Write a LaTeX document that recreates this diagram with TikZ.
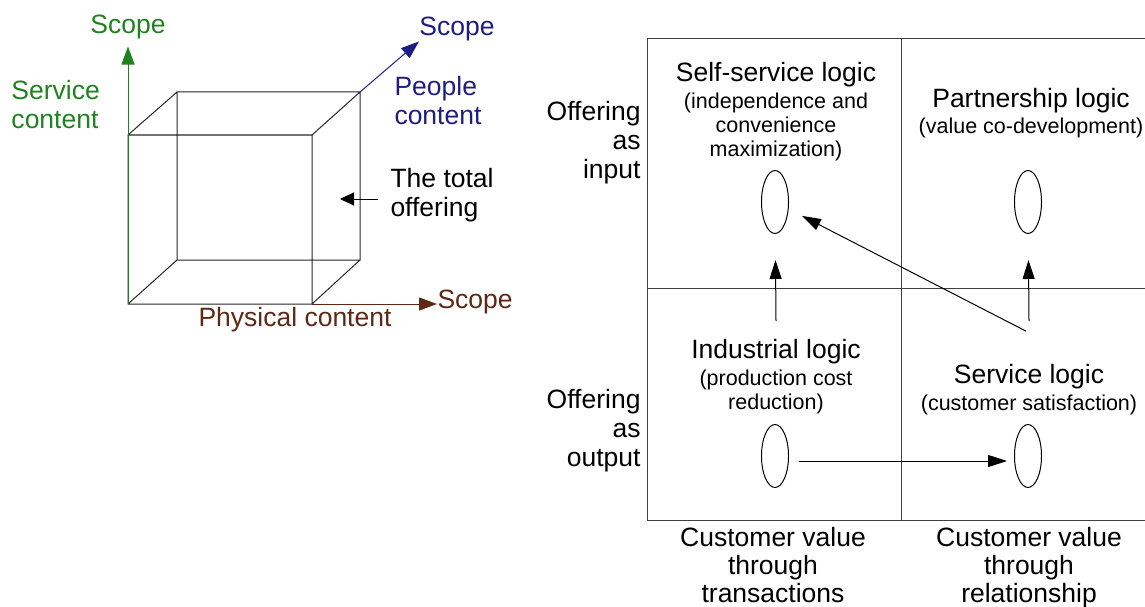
\documentclass[tikz,border=0pt]{standalone}
\usepackage{fontspec}
\setmainfont{Liberation Sans}
\usetikzlibrary{arrows.meta,shapes.geometric,positioning}
\definecolor{servgreen}{RGB}{30,130,30}
\definecolor{peoplenavy}{RGB}{30,30,130}
\definecolor{physbrown}{RGB}{95,40,20}
\tikzset{
	big/.style={font=\fontsize{26.5}{29}\selectfont,inner sep=0pt,align=center},
	small/.style={font=\fontsize{21.5}{24}\selectfont,inner sep=0pt,align=center},
	oval/.style={draw,ellipse,minimum width=27pt,minimum height=63pt,inner sep=0pt},
	flow/.style={-{Triangle[length=19pt,width=12pt]}},
	axis/.style={-{Triangle[length=18pt,width=13pt]}},
}
\begin{document}
\begin{tikzpicture}[x=1pt,y=-1pt,line width=1pt]
	\useasboundingbox (0,0) rectangle (1145,607);
	\path 
	(128,304)coordinate (A)++(184,0)coordinate (B)
	++(0,-169)coordinate (C)++(-184,0)coordinate (D)
	(177,260)coordinate (E)++(183,0)coordinate (F)
	++(0,-168)coordinate (G)++(-183,0)coordinate (H)
	(340,199)coordinate (totaltip)
	;
	\draw[black!85] (A)--(B)--(C)--(D)--cycle
	(E)--(F)--(G)--(H)--cycle
	(A)--(E) (B)--(F) (C)--(G) (D)--(H);
	\node[big,servgreen] (svscope) at (128,27) {Scope};
	\node[big,servgreen,align=left,anchor=west] (svlabel) at (11,105) {Service\\content};
	\node[big,peoplenavy] (pscope) at (457,29) {Scope};
	\node[big,peoplenavy,align=left,anchor=west] (plabel) at (394,101) {People\\content};
	\node[big,physbrown,anchor=west] (phscope) at (437,302) {Scope};
	\node[big,physbrown] (phlabel) at (295,320) {Physical content};
	\node[big,align=left,anchor=west] (total) at (390,195) {The total\\offering};
	\draw[axis,servgreen,shorten >=7pt] (A)--(svscope);
	\draw[axis,peoplenavy] (G)--(pscope.south west);
	\draw[axis,physbrown] (B)--(B-|phscope.west);
	\draw[-{Triangle[length=14pt,width=13pt]}] ([xshift=-12pt]total.west|-totaltip)--(totaltip);
	\path 
	(647,39)coordinate (NW)++(254,0)coordinate (NM)++(244,0)coordinate (NE)
	(647,288)coordinate (WM)++(498,0)coordinate (EM)
	(647,520)coordinate (SW)++(254,0)coordinate (SM)++(244,0)coordinate (SE)
	;
	\draw[black!75] (NE)--(NW)--(SW)--(SE)
	(NM)--(SM) (WM)--(EM);
	\node[big] (selft) at (776,75) {Self-service logic};
	\node[small] (selfs) at (776,127) {(independence and\\convenience\\maximization)};
	\node[oval] (selfo) at (775,202) {};
	\node[big] (partt) at (1031,101) {Partnership logic};
	\node[small] (parts) at (1031,128) {(value co-development)};
	\node[oval] (parto) at (1028,202) {};
	\node[big] (indt) at (776,352) {Industrial logic};
	\node[small] (inds) at (776,392) {(production cost\\reduction)};
	\node[oval] (indo) at (775,456) {};
	\node[big] (servt) at (1029,377) {Service logic};
	\node[small] (servs) at (1029,405) {(customer satisfaction)};
	\node[oval] (servo) at (1028,456) {};
	\node[big,align=right,anchor=east] (inrow) at (641,143) {Offering\\as~\\input};
	\node[big,align=right,anchor=east] (outrow) at (641,431) {Offering\\as\\output};
	\node[big,font=\fontsize{26.5}{28}\selectfont,anchor=north] (trcol) at (773,527) {Customer value\\through\\transactions};
	\node[big,font=\fontsize{26.5}{28}\selectfont,anchor=north] (relcol) at (1029,527) {Customer value\\through\\relationship};
	\draw[flow,shorten >=26pt] ([yshift=18pt]indt.north)--(selfo);
	\draw[flow,shorten >=26pt] ([yshift=43pt]servt.north)--(parto);
	\draw[flow,shorten >=15pt] ([xshift=-3pt,yshift=33pt]servt.north)--(selfo);
	\draw[flow,shorten <=10pt,shorten >=7pt] ([yshift=-5pt]indo.east)--([yshift=-5pt]servo.west);
\end{tikzpicture}
\end{document}
